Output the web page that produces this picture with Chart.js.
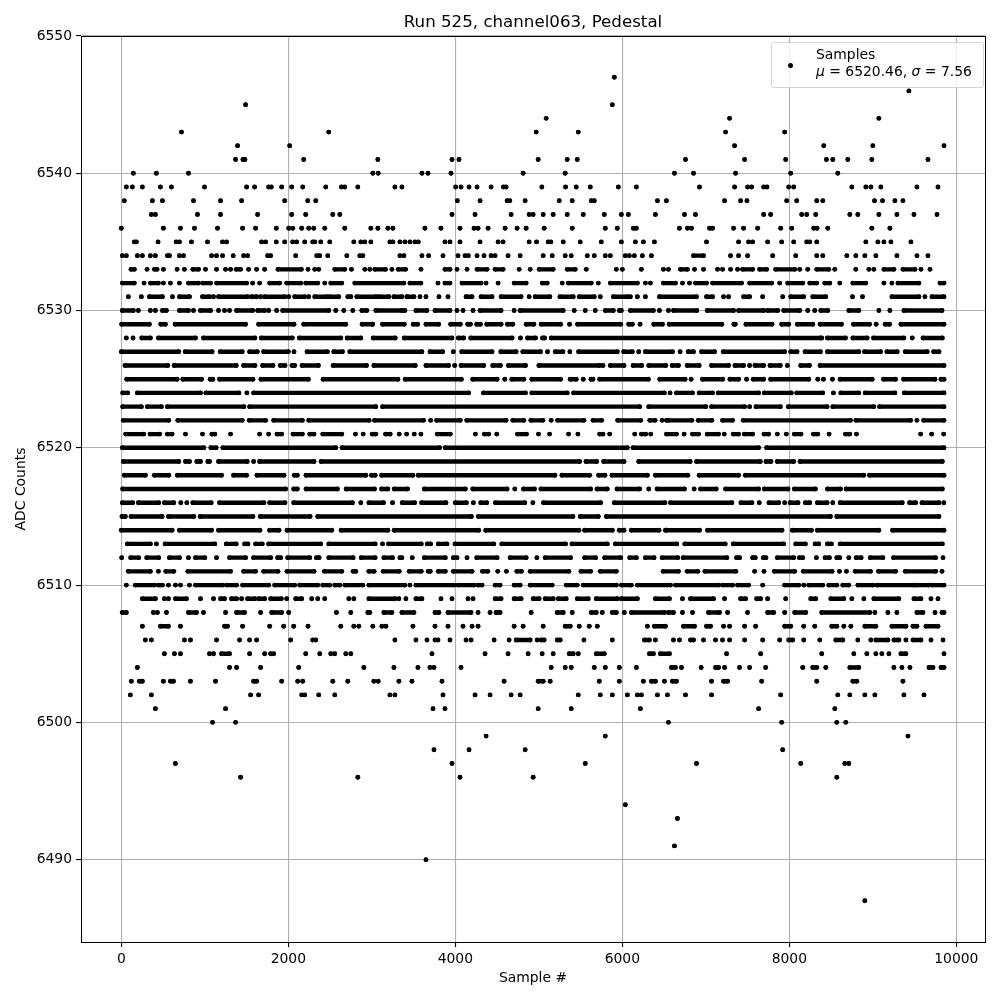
<!DOCTYPE html>
<html>
<head>
<meta charset="utf-8">
<title>Run 525, channel063, Pedestal</title>
<script src="https://cdn.jsdelivr.net/npm/chart.js@4/dist/chart.umd.min.js"></script>
<style>
  body { margin: 0; background: #fff; }
  #wrap { position: relative; width: 1000px; height: 1000px; }
  #legendBox {
    position: absolute; left: 771px; top: 42px; width: 211px; height: 44px;
    border: 1px solid #d4d4d4; border-radius: 3px; background: rgba(255,255,255,0.8);
    font: 13.9px "DejaVu Sans", sans-serif; color: #000;
  }
  #legendBox .dot { position: absolute; left: 16px; top: 20px; width: 5px; height: 5px; border-radius: 50%; background: #000; }
  #legendBox .l1, #legendBox .l2 { position: absolute; left: 44px; white-space: pre; line-height: 16px; }
  #legendBox .l1 { top: 3px; }
  #legendBox .l2 { top: 20px; }
</style>
</head>
<body>
<div id="wrap">
  <canvas id="chart" width="1000" height="1000"></canvas>
  <div id="legendBox">
    <span class="dot"></span>
    <span class="l1">Samples</span>
    <span class="l2"><i>μ</i> = 6520.46, <i>σ</i> = 7.56</span>
  </div>
</div>
<script>
/* Sample numbers, one list per ADC level.
   A number is one sample, [a, b] is a stretch where the dots touch each other. */
const xTickValues = [0, 2000, 4000, 6000, 8000, 10000];
const yTickValues = [6490, 6500, 6510, 6520, 6530, 6540, 6550];

const r6547 = [5904];
const r6546 = [9432];
const r6545 = [1488, 5880];
const r6544 = [5088, 7284, 9072];
const r6543 = [720, 2484, 4968, 5472, 7236, 7944];
const r6542 = [1392, 2016, 7344, 8412, 9000, 9852];
const r6541 = [1368, 1456, 1480, 2184, 3072, 3960, 4044, 4992, 5340, 5460, 6756, 7464, 7956, 8444, 8520, 8700, 8988, 9660];
const r6540 = [144, 420, 804, 3012, 3076, 3600, 3672, 3948, 4812, 5316, 6624, 6852, 7356, 8016, 8580];
const r6539 = [60, 132, 252, 468, 600, 996, 1500, 1596, 1764, 1796, 1920, 2040, 2172, 2448, 2636, 2676, 2832, 3276, 3360, 4004, 4068, 4164, 4260, 4428, 4576, 4608, 5036, 5320, 5448, 5616, 5952, 6168, 6924, 7344, 7500, 7548, 7692, 7732, 7992, 8052, 8748, 8916, 8976, 9096, 9528, 9780];
const r6538 = [36, 372, 492, 864, 1188, 1440, 1956, 2232, 2328, 4024, 4296, 4620, 4652, 4836, 5244, 5400, 5628, 5664, 6420, 6528, 7224, 7416, 7492, 7968, 8088, 8328, 8400, 9020, 9116, 9264, 9360];
const r6537 = [360, 408, 912, 1188, 1632, 2040, 2208, 2532, 2616, 3960, 4236, 4668, 4884, 4932, 5052, 5172, 5340, 5532, 5784, 5988, 6072, 6396, 6744, 6876, 7692, 7776, 8148, 8208, 8316, 8724, 8820, 9072, 9288, 9492, 9768];
const r6536 = [0, 504, 708, 876, 1152, 1452, 1608, 1856, 2004, 2052, 2160, 2244, 2304, 2436, 2676, 2988, 3072, 3192, 3252, 3636, 3828, 4056, 4224, 4272, 4392, 4596, 4740, 4848, 5064, 5400, 5796, 5940, 6132, 6168, 6684, 6780, 6828, 7044, 7080, 7332, 7452, 7620, 7896, 8028, 8292, 8332, 8460, 8988, 9204];
const r6535 = [156, 180, 440, 656, 696, 840, 1032, 1212, 1260, 1680, 1728, 1856, 1956, 2052, 2100, 2196, 2292, 2316, 2388, 2496, 2784, 2868, 2916, 2988, 3216, 3252, 3336, 3396, 3456, 3516, 3556, 3876, 3936, 4056, 4296, 4512, 4572, 4884, 4972, 5112, 5144, 5292, 5496, 5748, 5988, 6156, 6252, 6384, 7008, 7392, 7512, 7560, 7740, 7908, 8052, 8208, 8244, 8328, 8916, 9060, 9132, 9216, 9456];
const r6534 = [12, 60, 192, 252, 348, 408, 552, 576, 696, 744, 1080, 1140, 1212, 1340, 1464, 1512, 1752, 1788, 2088, 2340, 2376, 2472, 2700, 2856, 2892, 3336, 3384, 3600, 3680, 3852, 4032, 4116, 4156, 4260, 4344, 4428, 4476, 4632, 4776, 5052, 5160, 5316, 5388, 5580, 5664, 5796, 5856, 6036, 6084, 6144, 6240, 6348, [6852, 6972], 7296, 7392, 7500, 7800, 8076, 8328, 8400, 8688, 8796, 8904, 9036, 9288, 9528, 9660];
const r6533 = [[116, 156], 308, 396, 428, 504, 668, 756, [856, 924], 1008, 1140, 1248, 1308, [1376, 1428], 1524, 1620, 1716, [1876, 2156], 2236, 2316, 2364, [2556, 2676], 2756, 2916, 2976, [3036, 3164], 3240, [3316, 3404], 3588, [3876, 3936], 4020, 4140, [4260, 4380], [4476, 4572], 4764, 4896, [5004, 5172], [5340, 5436], 5568, 5928, 6000, 6228, 6492, 6552, [6696, 6780], 6864, 6972, 7140, 7200, 7296, 7380, [7440, 7560], [7644, 7728], [7836, 8064], 8124, 8220, [8328, 8472], 8544, 8796, 8952, 9012, [9132, 9252], [9360, 9504], 9576, 9684];
const r6532 = [[12, 156], 272, [348, 444], 504, 588, 696, [804, 924], [976, 1068], [1140, 1500], 1572, 1656, [1776, 1896], [1980, 2148], [2208, 2352], 2436, [2508, 2640], [2796, 3384], [3456, 3588], 3792, [3876, 3936], [4080, 4308], 4368, 4512, [4704, 4848], [5040, 5100], 5280, [5352, 5628], 5712, [5856, 6180], 6276, 6336, [6492, 6636], 6720, 6804, [6876, 7008], [7080, 7428], [7524, 7788], 7884, [7980, 8160], [8244, 8328], [8424, 8484], 8604, [8760, 8916], 9132, 9228, [9300, 9552], [9804, 9852]];
const r6531 = [84, 240, [336, 492], 612, [696, 816], [972, 1056], 1104, [1164, 1512], [1560, 1620], 1668, [1716, 1956], 2004, [2076, 2196], 2244, [2316, 2460], [2496, 2604], [2712, 2748], [2820, 3048], [3084, 3204], [3264, 3360], [3420, 3504], 3576, 3648, 3804, 3912, [4128, 4200], [4308, 4440], [4548, 4788], 4884, [4956, 5132], [5252, 5412], [5484, 5664], 5736, [5892, 6060], 6096, 6180, 6276, [6444, 6888], [7008, 7080], 7212, 7272, [7452, 7524], 7680, 7920, [8016, 8172], [8280, 8436], 8756, 8876, [9228, 9552], 9624, [9708, 9852]];
const r6530 = [[12, 144], 204, 348, 408, [492, 540], [696, 804], 864, [948, 1068], 1164, 1236, 1296, [1380, 1572], [1632, 1716], 1764, 1860, [1932, 2484], 2568, 2664, 2772, [2880, 2940], [3048, 3360], 3396, [3528, 3660], [3756, 3936], 4020, 4092, 4212, [4296, 4548], 4704, [4776, 5292], 5424, 5556, 5676, [5796, 5892], 5964, 5988, [6096, 6372], 6444, 6552, [6612, 6892], [7016, 7332], [7392, 7692], [7740, 7860], [7932, 8124], 8220, 8304, [8376, 8460], [8712, 8832], 9072, 9204, [9372, 9828]];
const r6529 = [[4, 336], [472, 528], [644, 1488], [1644, 2068], [2184, 2688], [2884, 3008], 3008, [3128, 3388], [3496, 3548], [3648, 3800], [3944, 4060], [4148, 4180], [4256, 4300], [4376, 4548], [4624, 4688], [4848, 4940], [5028, 5260], 5368, [5464, 5980], [6076, 6120], 6212, [6376, 6480], [6560, 7192], [7336, 7352], [7480, 7792], [7908, 7992], [8096, 8280], [8368, 8624], [8768, 8960], 9040, [9148, 9200], [9336, 9852]];
const r6528 = [60, 140, [244, 348], [444, 888], [984, 1600], [1676, 2048], [2132, 2628], [2704, 2868], [3016, 3280], [3388, 3960], [4036, 4100], [4184, 4680], 4780, [4864, 4960], [5044, 5068], [5148, 8372], 8388, [8456, 8672], [8760, 8932], [9008, 9372], 9472, [9600, 9832]];
const r6527 = [[0, 688], [764, 1088], [1184, 1448], [1536, 1628], [1704, 2000], 2068, [2224, 2468], [2544, 2648], [2736, 3600], [3696, 3848], 3976, [4076, 4440], [4544, 4728], [4808, 5020], 5104, [5196, 5288], 5372, [5476, 5940], [6016, 6120], 6196, [6276, 6600], 6692, [6788, 6852], [6948, 7104], [7208, 7944], [8016, 8092], [8188, 8372], [8456, 8832], [8900, 9092], [9168, 9292], [9388, 9652], [9728, 9792]];
const r6526 = [[44, 556], [632, 1376], [1464, 1600], [1692, 1816], [1904, 1960], [2044, 2076], [2164, 2360], [2536, 2936], [3024, 3520], [3648, 3920], 3992, [4068, 4340], [4448, 4540], [4636, 4840], [5000, 5728], 5768, [5856, 6020], [6128, 6232], [6316, 6520], [6596, 6672], [6776, 6920], [7068, 7272], [7348, 7452], 7524, [7588, 7692], [7768, 7892], 7976, [8136, 8240], [8368, 9852]];
const r6525 = [[64, 668], [736, 960], [1064, 1096], [1176, 1576], [1672, 2240], [2416, 3312], [3400, 4072], [4208, 4500], 4592, [4676, 4820], [4916, 5260], [5376, 5448], 5532, [5624, 5648], [5728, 6312], [6448, 6752], 6824, [6960, 7200], [7288, 7392], 7488, [7568, 7692], [7776, 8232], 8340, 8408, 8516, [8608, 8992], [9128, 9272], [9368, 9744], [9816, 9852]];
const r6524 = [[16, 76], [192, 948], [1012, 1408], 1504, [1584, 4160], [4336, 4840], [4916, 5340], [5416, 6504], 6572, [6648, 6840], [6920, 7080], [7148, 7632], [7700, 8024], [8088, 8400], 8528, [8616, 8832], [8908, 9264], [9376, 9852]];
const r6523 = [[16, 240], [312, 480], [552, 1468], [1536, 3048], [3128, 6208], [6316, 7000], [7068, 7464], 7524, [7600, 7892], [7988, 8452], [8520, 9012], [9080, 9852]];
const r6522 = [[24, 568], [676, 1448], [1532, 1728], [1824, 2168], [2244, 2968], [3032, 3620], 3704, [3776, 4060], [4136, 4608], [4688, 4820], [4904, 5048], 5148, [5224, 5540], [5648, 5752], [5944, 6220], [6328, 6392], 6476, 6556, [6528, 6832], [6908, 7072], [7200, 7320], [7448, 8732], [8796, 9452], 9528, [9608, 9852]];
const r6521 = [[52, 268], [344, 460], [552, 608], 768, 972, [1084, 1120], 1308, 1656, 1764, [1864, 1920], [2056, 2168], [2256, 2308], [2412, 2640], 2804, 2896, [3004, 3048], [3164, 3220], 3328, 3416, 3508, 3588, [3784, 3940], 4240, [4348, 4400], 4496, [4744, 4852], 4996, 5128, 5356, 5468, [5728, 5768], 5848, 6148, [6228, 6280], 6340, [6528, 6648], 6740, [6840, 6912], [7016, 7152], 7220, [7328, 7392], [7460, 7560], [7696, 7752], 7856, 7964, [8060, 8140], [8288, 8340], 8476, [8672, 8724], 8804, 9572, 9704, 9848];
const r6520 = [[12, 988], [1072, 1136], [1216, 2568], [2644, 3812], [3880, 6060], [6128, 7632], [7728, 9852]];
const r6519 = [[24, 688], [768, 816], [904, 948], [1036, 1056], [1164, 1508], 1584, [1656, 2308], [2392, 5488], [5564, 5692], [5776, 6020], [6196, 6812], [6888, 7652], [7720, 7780], [7856, 8052], [8128, 9832]];
const r6518 = [[36, 288], [396, 568], [672, 1200], [1344, 1500], [1624, 1948], [2072, 2108], [2212, 2928], [2996, 3040], [3116, 3492], [3556, 5192], [5276, 5608], [5716, 5792], [5876, 6300], [6396, 6784], [6920, 7392], [7472, 8892], [8960, 9852]];
const r6517 = [[16, 1968], [2064, 2108], [2212, 2588], [2692, 3032], [3116, 3192], [3268, 3428], [3628, 4120], [4208, 4620], 4712, [4816, 4948], [5024, 5620], [5696, 5820], [5936, 6208], 6316, [6416, 6744], 6860, [6936, 7124], [7236, 7632], [7700, 7984], [8060, 8312], [8456, 8612], [8680, 9832]];
const r6516 = [[12, 136], [204, 448], [516, 628], 712, 784, [856, 1076], [1176, 1708], [1776, 1960], [2064, 2768], 2868, [2964, 3140], 3248, [3364, 3512], [3596, 3888], [4000, 4132], 4216, [4304, 4376], [4480, 4832], 4928, [5056, 5740], [5904, 6510], [6576, 7312], [7420, 7552], 7640, [7756, 7872], 7944, [8008, 8104], [8192, 8244], [8336, 8452], 8520, [8608, 9352], [9440, 9512], [9588, 9792], 9850];
const r6515 = [[8, 48], [116, 488], [564, 868], [944, 1576], [1664, 2260], [2352, 4192], [4276, 5408], [5496, 5712], [5808, 8492], [8568, 9792]];
const r6514 = [[0, 608], [696, 1080], [1164, 1660], [1776, 1888], [1984, 2520], [2632, 3192], [3268, 4280], [4364, 5480], [5548, 5880], [5964, 6020], [6108, 6440], 6528, [6516, 6924], [7020, 7912], [8036, 8264], [8336, 9072], [9236, 9852]];
const r6513 = [[72, 348], 420, [524, 1120], [1256, 1376], [1476, 1516], [1608, 1688], [1764, 2388], [2484, 3040], 3128, [3200, 3592], [3664, 3704], [3796, 3900], [3996, 4460], [4556, 5320], [5396, 5820], [5916, 6652], [6748, 7232], [7328, 7932], [8076, 8192], [8308, 8352], [8456, 8504], [8608, 9832]];
const r6512 = [4, [112, 208], [304, 448], [576, 696], 804, [888, 1000], 1140, [1296, 1488], [1584, 1788], [1872, 1908], [1992, 2256], [2336, 2368], [2484, 2776], [2872, 3040], [3144, 3248], [3336, 3360], 3484, [3628, 3880], [3976, 4020], 4140, [4256, 4500], [4656, 4848], 4976, [5076, 5380], [5548, 5680], [5788, 5980], [6088, 6168], [6276, 6380], [6476, 6664], [6728, 7252], [7368, 7404], [7560, 7592], [7688, 7720], [7856, 8052], [8120, 8160], 8324, [8428, 8480], [8568, 8604], 8712, [8800, 8860], [8968, 9120], [9248, 9752], 9840];
const r6511 = [[84, 348], 444, [532, 628], [796, 1308], [1464, 1608], [1704, 1876], [1984, 2308], [2432, 2640], [2776, 2808], [2964, 3028], [3136, 3328], [3448, 3592], [3676, 3700], [3796, 3880], [3976, 4200], [4324, 4388], 4508, 4612, [4736, 4792], [4896, 5360], [5504, 5620], [5736, 5928], [6488, 6672], [6776, 6904], [6988, 7360], 7584, 7696, [7820, 8064], [8168, 8512], 8600, 8684, [8788, 8972], [9068, 9272], [9388, 9752], 9828];
const r6510 = [60, [168, 396], [444, 492], 564, 648, 708, 816, [888, 1212], [1260, 1380], [1452, 1764], [1836, 2076], [2136, 2352], [2412, 2496], [2556, 2616], [2676, 2892], [2964, 3396], 3456, [3528, 3984], [4032, 4224], [4272, 4320], [4476, 4536], [4704, 4776], [4896, 5160], [5328, 5460], [5532, 5928], [5988, 6108], [6180, 6540], 6576, [6636, 7152], [7200, 7320], [7380, 7512], 7680, [7944, 8112], 8172, [8232, 8400], [8472, 8568], [8640, 8712], [8820, 9000], [9048, 9492], [9516, 9672], [9708, 9852]];
const r6509 = [[252, 408], 516, 564, [648, 780], 948, 1104, [1188, 1236], [1320, 1380], 1440, [1512, 1596], [1644, 1716], [1788, 1916], 1980, [2088, 2160], 2280, 2352, 2436, 2724, 2784, [2964, 3276], 3324, 3408, [3528, 3600], 3828, 3960, 4152, 4212, [4476, 4548], [4704, 4788], [4932, 5004], [5076, 5172], [5232, 5328], [5460, 5592], [5688, 5940], [5988, 6180], [6396, 6564], 6720, [6816, 7092], 7224, [7416, 7476], [7608, 7656], 7740, 7956, [8256, 8316], [8496, 8652], 8748, 8892, [9012, 9312], [9492, 9576], 9696, 9780];
const r6508 = [[12, 60], 384, 432, 540, [804, 900], 984, 1248, [1380, 1476], 1668, [1800, 1920], 2004, 2576, 2748, 2952, 2976, [3144, 3240], [3360, 3504], [3756, 3804], [3912, 4188], 4272, 4416, [4488, 4536], 4908, [5220, 5292], 5400, [5628, 5688], 5760, [5880, 5928], 6024, [6108, 6504], [6552, 6612], 6720, 6840, [7032, 7164], 7260, 7500, [7740, 7812], 7944, [8064, 8196], [8388, 8964], 9024, 9180, 9288, [9528, 9600], 9744, [9828, 9852]];
const r6507 = [252, [468, 564], 708, 1236, 1272, 1452, 1776, 1944, 2064, 2236, 2628, 2784, 2844, 3012, 3120, 3168, 3492, 3756, 3912, 4092, 4200, 4272, 4704, 4812, 5052, [5316, 5376], 5484, 5604, 5700, 6300, [6384, 6516], [6732, 6864], [7008, 7056], 7212, 7284, 7464, 7596, [7944, 8016], 8172, 8304, [8508, 8568], 8652, 8736, [8904, 9036], [9228, 9396], [9480, 9528], [9636, 9780]];
const r6506 = [288, 360, 756, 828, 1140, 1416, 1536, 1620, 2028, 2292, 2328, 3276, 3528, 3660, 3756, 3792, 3936, 4128, 4188, 4464, 4644, [4728, 4896], 4980, [5028, 5064], [5220, 5256], 5540, 5880, [6264, 6324], 6396, 6612, 6684, [6816, 6852], 6972, 7116, 7200, 7284, 7464, 7680, 7884, [7992, 8040], 8172, 8364, [8556, 8640], 8820, 8976, [9036, 9180], [9252, 9312], 9396, [9480, 9576], 9696, 9840];
const r6505 = [516, 636, 708, 1056, 1104, [1200, 1296], 1536, 1716, 1788, 1824, 2208, 2376, 2508, 2556, 2688, 2748, 3720, 4356, 4632, 4872, 5040, 5172, [5364, 5412], 5472, [5688, 5784], [6324, 6372], [6456, 6564], 7248, 7656, 8388, 8772, 8928, 9036, 9108, 9192, [9336, 9396], 9852];
const r6504 = [192, 1296, 1380, 1668, 2124, 2904, 3264, 3552, 3696, 3744, 4068, 5148, 5316, 5388, 5664, 5796, 5964, 6168, [6588, 6636], 6708, 6944, [7116, 7152], 7224, 7404, 7524, 7716, 8160, [8280, 8328], 8436, [8724, 8832], 9252, 9348, 9444, [9672, 9720], [9816, 9852]];
const r6503 = [120, 216, 252, 504, 588, 624, 828, 1128, 1584, 1620, 1920, 2112, 2172, 2532, 2712, 3024, 3076, 3324, 3480, 3840, 4584, [4992, 5052], 5136, 5724, 5964, 6252, [6348, 6396], 6504, [6600, 6648], 7068, [7212, 7260], 7668, 8328, [8760, 8808], 9360];
const r6502 = [108, 360, 1548, 1644, 2160, 2196, 2364, 2556, 3216, 3276, 3852, 4236, 4416, 4668, 4776, 5472, 5736, 5880, 6060, 6180, 6228, 6420, 6540, 6756, 7068, 7896, 8580, 8724, 8904, 9024, 9372, 9612];
const r6501 = [408, 1248, 3732, 3876, 4992, 5388, 6216, 7632, 8544];
const r6500 = [1092, 1368, 6552, 7908, 8568, 8676];
const r6499 = [4368, 5796, 9420];
const r6498 = [3744, 4164, 4836, 7920];
const r6497 = [648, 3960, 5556, 6888, 8136, 8664, 8712];
const r6496 = [1428, 2832, 4056, 4932, 8568];
const r6494 = [6036];
const r6493 = [6660];
const r6491 = [6624];
const r6490 = [3648];
const r6487 = [8904];

const rowTable = [
  [6547, r6547], [6546, r6546], [6545, r6545], [6544, r6544], [6543, r6543], [6542, r6542], [6541, r6541], [6540, r6540],
  [6539, r6539], [6538, r6538], [6537, r6537], [6536, r6536], [6535, r6535], [6534, r6534], [6533, r6533], [6532, r6532],
  [6531, r6531], [6530, r6530], [6529, r6529], [6528, r6528], [6527, r6527], [6526, r6526], [6525, r6525], [6524, r6524],
  [6523, r6523], [6522, r6522], [6521, r6521], [6520, r6520], [6519, r6519], [6518, r6518], [6517, r6517], [6516, r6516],
  [6515, r6515], [6514, r6514], [6513, r6513], [6512, r6512], [6511, r6511], [6510, r6510], [6509, r6509], [6508, r6508],
  [6507, r6507], [6506, r6506], [6505, r6505], [6504, r6504], [6503, r6503], [6502, r6502], [6501, r6501], [6500, r6500],
  [6499, r6499], [6498, r6498], [6497, r6497], [6496, r6496], [6494, r6494], [6493, r6493], [6491, r6491], [6490, r6490],
  [6487, r6487],
];

/* dots and stretches go in one dataset, a null point breaks the line */
function buildPoints() {
  const pts = [];
  rowTable.forEach(([level, row]) => {
    row.forEach(item => {
      if (Array.isArray(item)) {
        pts.push({ x: item[0], y: level }, { x: item[1], y: level });
      } else {
        pts.push({ x: item, y: level });
      }
      pts.push({ x: null, y: null });
    });
  });
  return pts;
}

/* top and right spines, matplotlib style box */
const frameBox = {
  id: 'frameBox',
  afterDatasetsDraw(chart) {
    const { ctx, chartArea: a } = chart;
    ctx.save();
    ctx.strokeStyle = '#000';
    ctx.lineWidth = 1;
    ctx.strokeRect(a.left + 0.5, a.top + 0.5, a.width, a.height);
    ctx.restore();
  },
};

const tickFont = { family: "'DejaVu Sans', sans-serif", size: 13.9 };

new Chart(document.getElementById('chart'), {
  type: 'scatter',
  data: {
    datasets: [{
      label: 'Samples',
      data: buildPoints(),
      showLine: true,
      spanGaps: false,
      borderColor: '#000',
      borderWidth: 4.4,
      borderCapStyle: 'round',
      backgroundColor: '#000',
      pointRadius: 2.45,
      pointBorderWidth: 0,
      pointBackgroundColor: '#000',
    }],
  },
  plugins: [frameBox],
  options: {
    responsive: false,
    animation: false,
    events: [],
    layout: { padding: { right: 15 } },
    plugins: {
      legend: { display: false },
      tooltip: { enabled: false },
      title: {
        display: true,
        fullSize: false,
        text: 'Run 525, channel063, Pedestal',
        color: '#000',
        font: { family: "'DejaVu Sans', sans-serif", size: 16.67, weight: 'normal' },
        padding: { top: 13, bottom: 3 },
      },
    },
    scales: {
      x: {
        type: 'linear',
        min: -483,
        max: 10343,
        afterBuildTicks: s => { s.ticks = xTickValues.map(v => ({ value: v })); },
        afterFit: s => { s.height = 58; },
        title: { display: true, text: 'Sample #', color: '#000', font: tickFont, padding: { top: 4, bottom: 13 } },
        border: { color: '#000', width: 1 },
        grid: { color: '#b0b0b0', lineWidth: 1.1, tickLength: 5, tickColor: '#000' },
        ticks: { color: '#000', font: tickFont, padding: 4, maxRotation: 0, autoSkip: false, callback: v => String(v) },
      },
      y: {
        type: 'linear',
        min: 6484,
        max: 6550,
        afterBuildTicks: s => { s.ticks = yTickValues.map(v => ({ value: v })); },
        afterFit: s => { s.width = 81; },
        title: { display: true, text: 'ADC Counts', color: '#000', font: tickFont, padding: { top: 13, bottom: 4 } },
        border: { color: '#000', width: 1 },
        grid: { color: '#b0b0b0', lineWidth: 1.1, tickLength: 5, tickColor: '#000' },
        ticks: { color: '#000', font: tickFont, padding: 4, autoSkip: false, callback: v => String(v) },
      },
    },
  },
});
</script>
</body>
</html>
